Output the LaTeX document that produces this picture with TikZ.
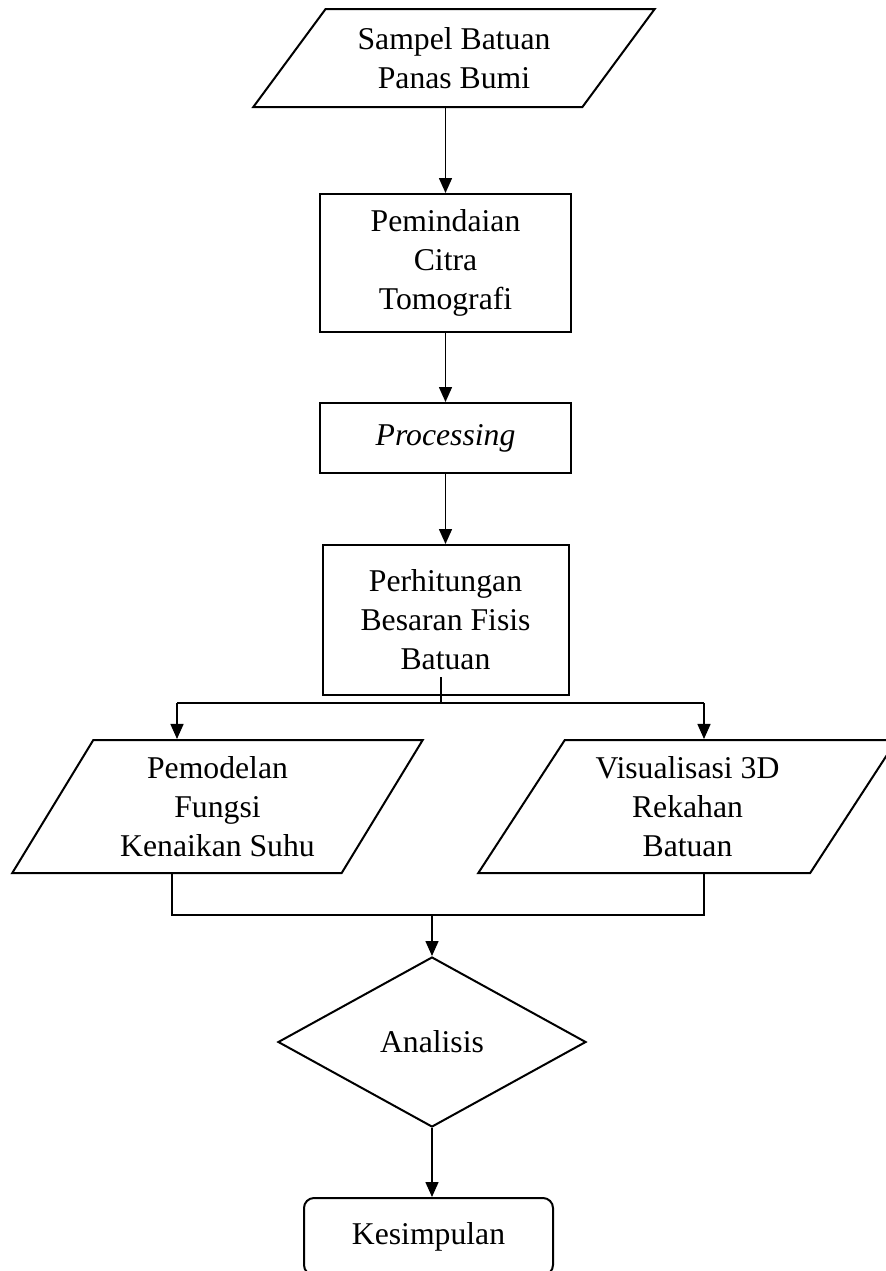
\documentclass[tikz,border=0pt]{standalone}
\usepackage{fontspec}
\setmainfont{Liberation Serif}
\usetikzlibrary{positioning,arrows.meta,shapes.geometric,calc}

\begin{document}
\begin{tikzpicture}[x=0.5pt,y=-0.5pt,
  every node/.style={font=\fontsize{15.85}{19.5}\selectfont,align=center,inner sep=2pt},
  io/.style={trapezium,trapezium stretches=true,draw,line width=1pt},
  proc/.style={rectangle,draw,line width=1pt},
  dec/.style={diamond,draw,line width=1pt,minimum width=154pt,minimum height=85pt,aspect=1.81},
  term/.style={rectangle,rounded corners=5pt,draw,line width=1pt,minimum width=124.5pt,minimum height=38.5pt},
  ln/.style={line width=0.75pt},
  fl/.style={ln,-{Triangle[length=7.5pt,width=6.5pt]}}]
\useasboundingbox (0,0) rectangle (886,1271);

\node[io,trapezium left angle=50.8,trapezium right angle=129.2,minimum width=201pt,minimum height=49pt] (sampel) at (454,58) {Sampel Batuan\\Panas Bumi};
\node[proc,minimum width=125.5pt,minimum height=69pt] (pemindaian) at (445.5,263) {Pemindaian\\Citra\\Tomografi};
\node[proc,minimum width=125.5pt,minimum height=35pt] (processing) at (445.5,438) {\textit{Processing}};
\node[proc,minimum width=123pt,minimum height=75pt] (perhitungan) at (445.5,620) {Perhitungan\\Besaran Fisis\\Batuan};
\node[io,trapezium left angle=58.6,trapezium right angle=121.4,minimum width=205.5pt,minimum height=66.5pt] (pemodelan) at (217.5,806.5) {Pemodelan\\Fungsi\\Kenaikan Suhu};
\node[io,trapezium left angle=58,trapezium right angle=122,minimum width=209.5pt,minimum height=66.5pt] (visual) at (687.5,806.5) {Visualisasi 3D\\Rekahan\\Batuan};
\node[dec] (analisis) at (432,1042) {Analisis};
\node[term] (kesimpulan) at (428.5,1236.5) {Kesimpulan};

% split and merge points
\coordinate (split) at (441,703);
\coordinate (lin) at (177,703);
\coordinate (rin) at (704,703);
\coordinate (lout) at (172,915);
\coordinate (rout) at (704,915);
\coordinate (merge) at (432,915);

\draw[fl] (pemindaian.north |- sampel.south) -- (pemindaian.north);
\draw[fl] (pemindaian) -- (processing);
\draw[fl] (processing) -- (perhitungan);
\draw[ln] (split) -- ++(0,-26);
\draw[ln] (lin) -- (rin);
\draw[fl] (lin) -- (lin |- pemodelan.north);
\draw[fl] (rin) -- (rin |- visual.north);
\draw[ln] (lout |- pemodelan.south) -- (lout) -- (rout) -- (rout |- visual.south);
\draw[fl] (merge) -- (analisis.north);
\draw[fl] (analisis.south) -- (analisis.south |- kesimpulan.north);
\end{tikzpicture}
\end{document}
